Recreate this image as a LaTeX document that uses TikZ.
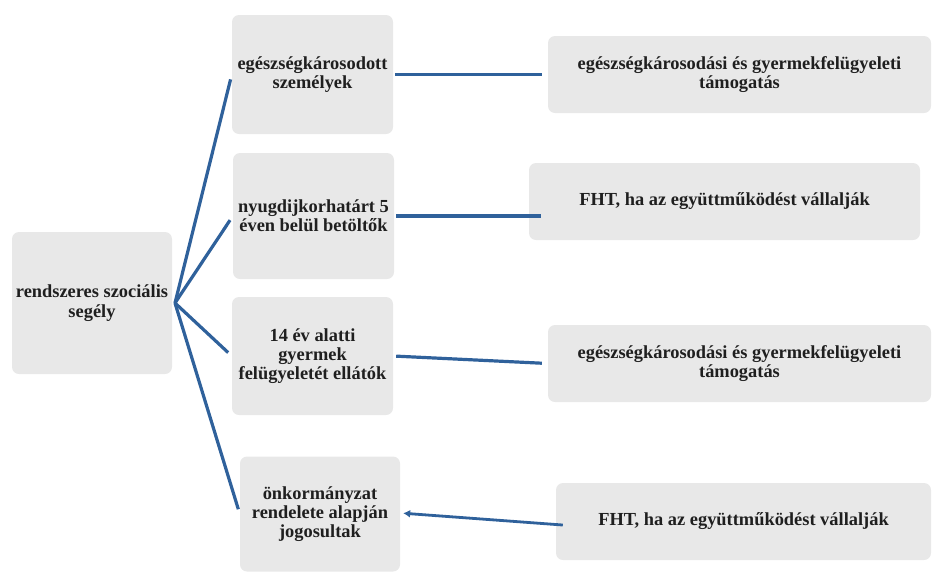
\documentclass[tikz,border=0pt]{standalone}
\usepackage{fontspec}
\setmainfont{Liberation Serif}
\usetikzlibrary{arrows.meta}
\definecolor{boxgray}{HTML}{E8E8E8}
\definecolor{linkblue}{HTML}{2F619B}
\begin{document}
\begin{tikzpicture}[x=1pt,y=-1pt,
  box/.style={draw=none,fill=boxgray,rounded corners=7pt,inner sep=0pt,align=center,
    font=\fontsize{18.4}{19.3}\selectfont\bfseries,text=black!88},
  link/.style={draw=linkblue,line width=3.2pt}]
\useasboundingbox (0,0) rectangle (932,571);
% root
\node[box,minimum width=160pt,minimum height=142pt] (root) at (92,303) {rendszeres szociális\\segély};
% middle
\node[box,minimum width=161pt,minimum height=119pt] (b1) at (312.5,74.5) {egészségkárosodott\\személyek};
\node[box,minimum width=161pt,minimum height=126pt] (b2) at (313.5,216) {nyugdijkorhatárt 5\\éven belül betöltők};
\node[box,minimum width=161pt,minimum height=118pt] (b3) at (312.5,356) {14 év alatti\\gyermek\\felügyeletét ellátók};
\node[box,minimum width=160pt,minimum height=115pt] (b4) at (320,514) {önkormányzat\\rendelete alapján\\jogosultak};
% right
\node[box,minimum width=383pt,minimum height=77pt] (r1) at (739.5,74.5) {egészségkárosodási és gyermekfelügyeleti\\támogatás};
\node[box,minimum width=391pt,minimum height=77pt] (r2) at (724.5,201.5) {FHT, ha az együttműködést vállalják};
\node[box,minimum width=383pt,minimum height=77pt] (r3) at (739.5,363.5) {egészségkárosodási és gyermekfelügyeleti\\támogatás};
\node[box,minimum width=375pt,minimum height=77pt] (r4) at (743.5,521.5) {FHT, ha az együttműködést vállalják};
% hub
\coordinate (hub) at (175,303);
\draw[link,shorten >=5pt] (hub) -- (b1.west);
\draw[link,shorten >=5pt] (hub) -- (b2.west);
\draw[link,shorten >=5pt] (hub) -- (b3.west);
\draw[link,shorten >=5pt] (hub) -- (b4.west);
% right connectors
\draw[link,shorten <=2pt,shorten >=6pt] (b1.east) -- (r1.west);
\draw[link,shorten <=2pt] (b2.east) -- ([xshift=12pt]b2.east -| r2.west);
\draw[link,shorten <=3pt,shorten >=6pt] (b3.east) -- (r3.west);
\draw[link,line width=2.8pt,-{Latex[length=7pt,width=8pt]},shorten >=3pt,shorten <=-7pt] ([yshift=-3pt]r4.west) -- ([yshift=1pt]b4.east);
\end{tikzpicture}
\end{document}
